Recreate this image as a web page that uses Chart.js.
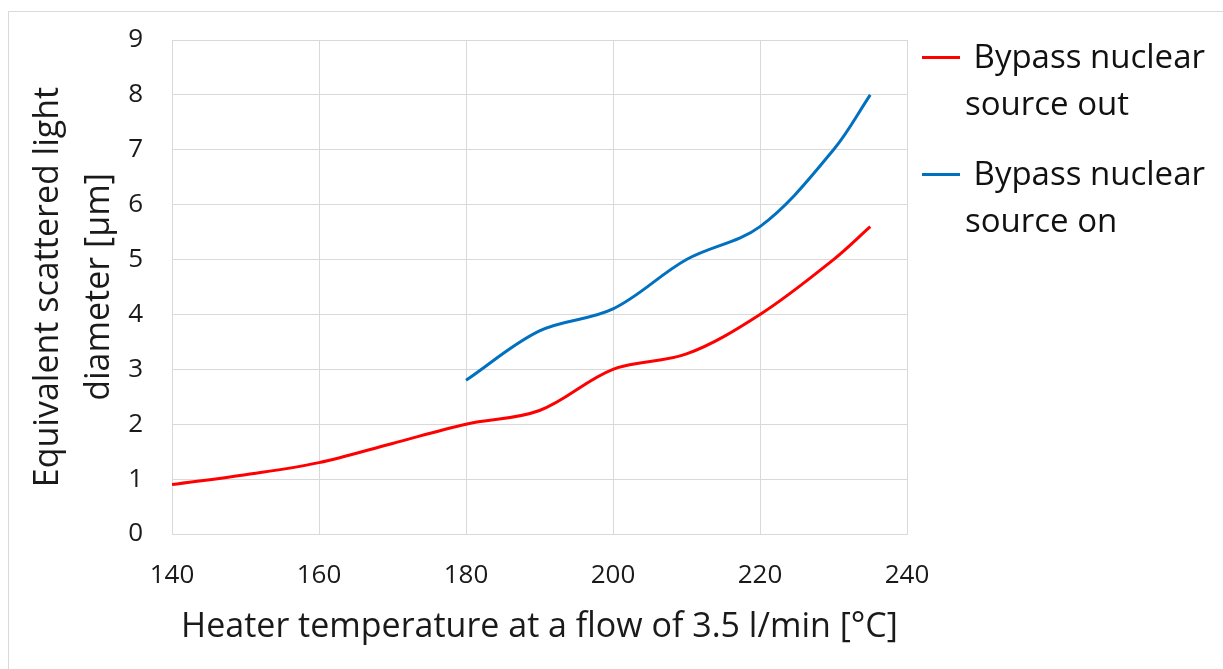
<!DOCTYPE html>
<html>
<head>
<meta charset="utf-8">
<script src="https://cdn.jsdelivr.net/npm/chart.js@4"></script>
<style>
  html, body { margin:0; padding:0; background:#fff; }
  body { width:1223px; height:669px; position:relative; overflow:hidden; font-family:"Open Sans", sans-serif; }
  #frame { position:absolute; left:8px; top:11px; width:1400px; height:800px; border:1px solid #d9d9d9; box-sizing:border-box; }
  #c { position:absolute; left:0; top:0; }
  .leg { position:absolute; left:922px; width:290px; font-size:33px; line-height:47px; color:#111; }
  .leg .sw { position:absolute; left:0; top:24px; width:38px; height:3px; }
  .leg .tx { position:absolute; left:43px; width:250px; white-space:pre-wrap; }
</style>
</head>
<body>
<div id="frame"></div>
<canvas id="c" width="1223" height="669"></canvas>
<div id="legend"></div>
<script>
// ---- data ----
const outTemps = [140, 150, 160, 170, 180, 190, 200, 210, 220, 230, 235];
const outValues = [0.9, 1.08, 1.3, 1.65, 2.0, 2.25, 3.0, 3.28, 4.0, 5.0, 5.6];
const onTemps = [180, 190, 200, 210, 220, 230, 235];
const onValues = [2.8, 3.7, 4.1, 5.0, 5.6, 7.0, 8.0];
const seriesLabels = [" Bypass nuclear source out", " Bypass nuclear source on"];
const seriesColors = ["#ff0000", "#0070c0"];
const xTitle = "Heater temperature at a flow of 3.5 l/min [°C]";
const yTitle = ["Equivalent scattered light", "diameter [µm]"];
const xMin = 140, xMax = 240, xStep = 20;
const yMin = 0, yMax = 9, yStep = 1;

const toPts = (xs, ys) => xs.map((x, i) => ({x: x, y: ys[i]}));

const gridColor = "#d9d9d9";
const textColor = "#1a1a1a";

const chart = new Chart(document.getElementById("c"), {
  type: "line",
  data: {
    datasets: [
      { label: seriesLabels[0], data: toPts(outTemps, outValues), borderColor: seriesColors[0], backgroundColor: seriesColors[0], borderWidth: 3, pointRadius: 0, tension: 0.35, fill: false },
      { label: seriesLabels[1], data: toPts(onTemps, onValues), borderColor: seriesColors[1], backgroundColor: seriesColors[1], borderWidth: 3, pointRadius: 0, tension: 0.35, fill: false }
    ]
  },
  options: {
    responsive: false,
    animation: false,
    devicePixelRatio: 1,
    layout: { padding: { left: 0, top: 40, right: 316, bottom: 0 } },
    plugins: { legend: { display: false }, tooltip: { enabled: false } },
    scales: {
      x: {
        type: "linear", min: xMin, max: xMax,
        ticks: { stepSize: xStep, color: textColor, font: { family: "Open Sans", size: 26 }, padding: 26, maxRotation: 0 },
        grid: { color: gridColor, lineWidth: 1, drawTicks: false },
        border: { color: gridColor, width: 1 },
        title: { display: true, text: xTitle, color: textColor, font: { family: "Open Sans", size: 34, lineHeight: 1.2 }, padding: { top: 0, bottom: 21 } },
        afterFit: (s) => { s.height = 669 - 534; s.paddingLeft = 0; s.paddingRight = 0; }
      },
      y: {
        type: "linear", min: yMin, max: yMax,
        ticks: { stepSize: yStep, color: textColor, font: { family: "Open Sans", size: 26 }, padding: 29 },
        grid: { color: gridColor, lineWidth: 1, drawTicks: false },
        border: { color: gridColor, width: 1 },
        title: { display: true, text: yTitle, color: textColor, font: { family: "Open Sans", size: 34, lineHeight: 1.5 }, padding: { top: 23, bottom: 0 } },
        afterFit: (s) => { s.width = 172; s.paddingTop = 0; s.paddingBottom = 0; }
      }
    }
  }
});

// HTML legend built from the datasets
const legendTops = [32, 149];
const legend = document.getElementById("legend");
chart.data.datasets.forEach((ds, i) => {
  const item = document.createElement("div");
  item.className = "leg";
  item.style.top = legendTops[i] + "px";
  const sw = document.createElement("div");
  sw.className = "sw";
  sw.style.background = ds.borderColor;
  const tx = document.createElement("div");
  tx.className = "tx";
  tx.textContent = ds.label;
  item.appendChild(sw);
  item.appendChild(tx);
  legend.appendChild(item);
});
</script>
</body>
</html>
